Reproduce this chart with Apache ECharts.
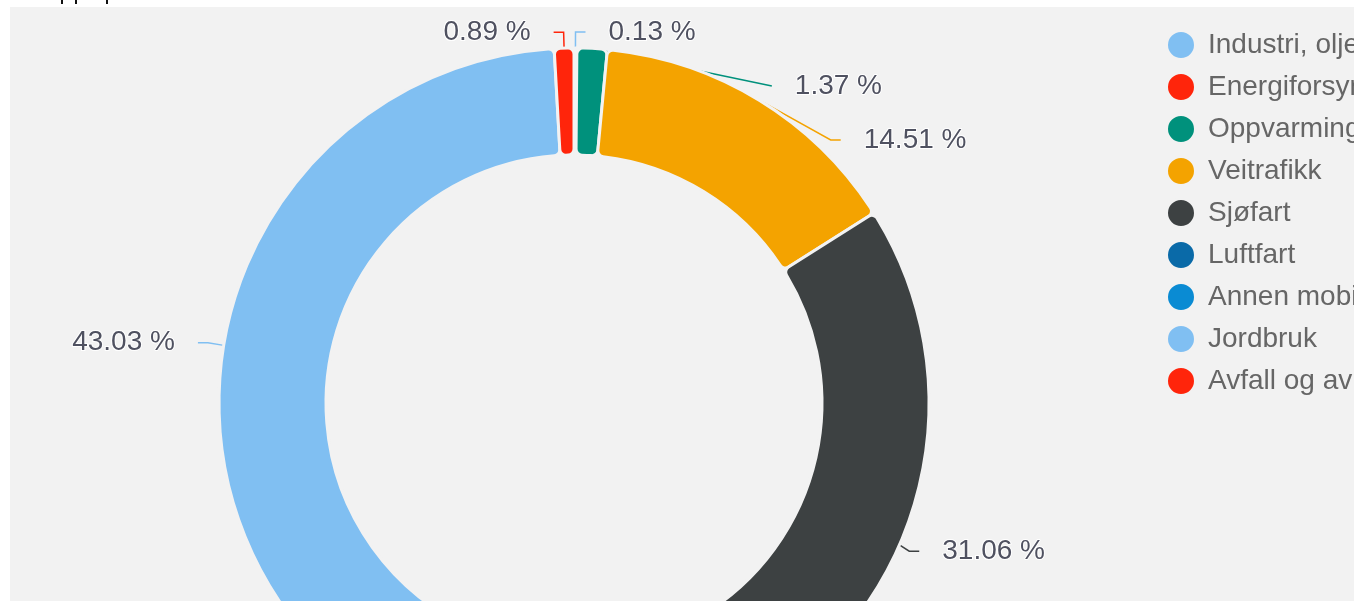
<html>
<head>
<meta charset="utf-8">
<script src="https://cdn.jsdelivr.net/npm/echarts@6/dist/echarts.min.js"></script>
<style>
	body { margin: 0; background: #fff; overflow: hidden; }
	#bg { position: absolute; left: 10px; top: 7px; width: 1700px; height: 900px; background: #f2f2f2; }
	/* diagrammet starter litt over bakgrunnen, så etikettene øverst får plass */
	#chart-main { position: absolute; left: 10px; top: -13px; width: 1700px; height: 920px; }
	/* rester av teksten over diagrammet */
	.tick { position: absolute; top: 0; width: 2px; height: 4px; background: #111; }
</style>
</head>
<body>
<span class="tick" style="left:61px"></span>
<span class="tick" style="left:75px"></span>
<span class="tick" style="left:106px"></span>
<div id="bg"></div>
<div id="chart-main"></div>

<script type="text/javascript">
	// sektorer og andel av utslipp (%)
	var sectors = ['Industri, olje og gass', 'Energiforsyning', 'Oppvarming', 'Veitrafikk', 'Sjøfart',
		'Luftfart', 'Annen mobil forbrenning', 'Jordbruk', 'Avfall og avløp'];
	var shares = [0.13, 0, 1.37, 14.51, 31.06, 1.52, 7.49, 43.03, 0.89];
	var colors = ['#80bff2', '#ff250b', '#00917c', '#f4a300', '#3d4142', '#0a6aa8', '#0a8bd3', '#80bff2', '#ff250b'];

	var myChart = echarts.init(document.getElementById('chart-main'));

	var pieData = sectors.map(function (name, i) {
		var item = { name: name, value: shares[i] };
		if (shares[i] === 0) {
			item.label = { show: false };
			item.labelLine = { show: false };
		}
		return item;
	});

	var option = {
		animation: false,
		color: colors,
		legend: {
			orient: 'vertical',
			left: 1156,
			top: 43,
			padding: 0,
			icon: 'circle',
			itemWidth: 28,
			itemHeight: 28,
			itemGap: 12,
			textStyle: { color: '#666', fontSize: 28, fontFamily: 'Liberation Sans', padding: [0, 0, 0, 8] },
			data: sectors
		},
		series: [
			{
				name: 'Utslipp',
				type: 'pie',
				center: [564, 416],
				radius: [248, 355],
				startAngle: 90,
				clockwise: true,
				avoidLabelOverlap: true,
				data: pieData,
				itemStyle: {
					borderColor: '#f2f2f2',
					borderWidth: 3,
					borderRadius: 6
				},
				label: {
					show: true,
					fontSize: 28,
					lineHeight: 52,
					fontFamily: 'Liberation Sans',
					color: '#4f5160',
					textBorderColor: '#fff',
					textBorderWidth: 2,
					padding: [0, 18],
					formatter: function (p) {
						return p.value.toFixed(2) + ' %';
					}
				},
				labelLine: {
					show: true,
					length: 16,
					length2: 10,
					lineStyle: { width: 1.5 }
				}
			}
		]
	};

	myChart.setOption(option);
</script>
</body>
</html>
